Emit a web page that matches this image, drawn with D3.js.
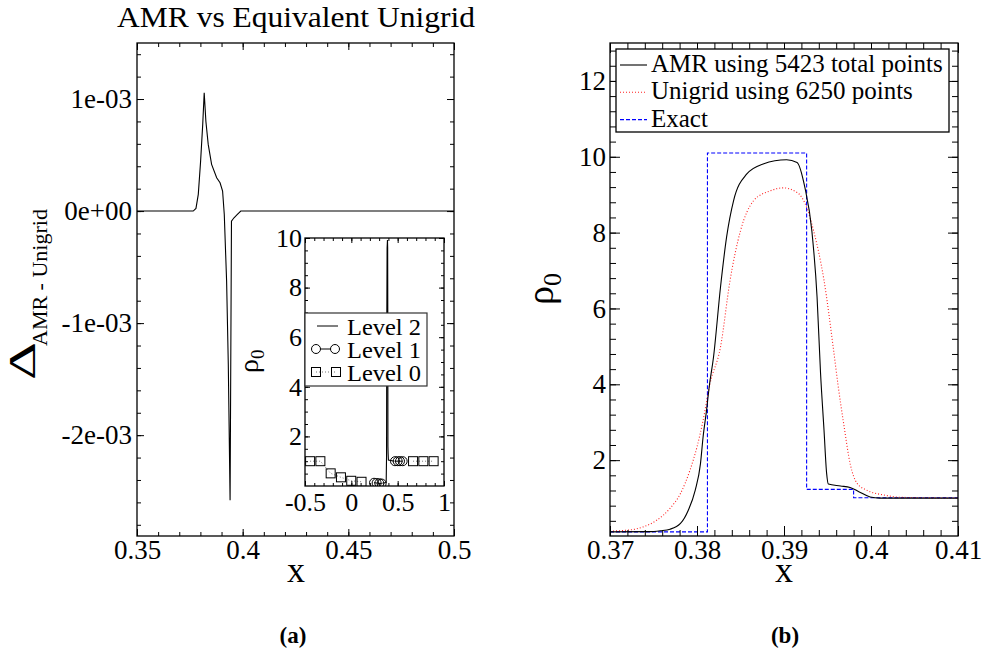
<!DOCTYPE html>
<html>
<head>
<meta charset="utf-8">
<script src="https://cdn.jsdelivr.net/npm/d3@7"></script>
<style>
body { margin: 0; background: #fff; }
svg text { font-family: "Liberation Serif", "Times New Roman", serif; fill: #000; }
</style>
</head>
<body>
<div id="chart"></div>
<script>
// ---- panel (a): AMR - unigrid difference
var diffX = [0.350, 0.3766, 0.3779, 0.3790, 0.3801, 0.3811, 0.3818, 0.3826, 0.3837, 0.3853, 0.3877, 0.3893, 0.3905, 0.3913, 0.3924, 0.3932, 0.39405, 0.39470, 0.3959, 0.3975, 0.3991, 0.500];
var diffY = [0, 0, 0.024e-3, 0.149e-3, 0.446e-3, 0.774e-3, 1.056e-3, 0.80e-3, 0.595e-3, 0.417e-3, 0.297e-3, 0.253e-3, 0.179e-3, -0.03e-3, -0.625e-3, -1.37e-3, -2.58e-3, -0.09e-3, -0.06e-3, -0.03e-3, 0, 0];
var aXTicks = [0.35, 0.4, 0.45, 0.5];
var aXLabels = ["0.35", "0.4", "0.45", "0.5"];
var aYTicks = [-2e-3, -1e-3, 0, 1e-3];
var aYLabels = ["-2e-03", "-1e-03", "0e+00", "1e-03"];

// ---- inset: refinement levels
var lev2X = [0.335, 0.376, 0.3800, 0.3825, 0.386, 0.390, 0.392, 0.3938, 0.3949, 0.397, 0.400, 0.465];
var lev2Rho = [0.11, 0.14, 1.2, 6.5, 9.6, 9.92, 9.6, 6.3, 1.6, 1.3, 1.05, 1.0];
var lev1X = [0.245, 0.273, 0.302, 0.327, null, 0.471, 0.500, 0.525, 0.554];
var lev1Rho = [0.13, 0.12, 0.11, 0.10, null, 1.0, 1.0, 1.0, 1.0];
var lev0X = [-0.445, -0.334, -0.223, -0.112, -0.001, 0.110, null, 0.666, 0.777, 0.888];
var lev0Rho = [1.0, 1.0, 0.51, 0.35, 0.21, 0.17, null, 1.0, 1.0, 1.0];
var inXTicks = [-0.5, 0, 0.5, 1];
var inXLabels = ["-0.5", "0", "0.5", "1"];
var inYTicks = [2, 4, 6, 8, 10];
var levelNames = ["Level 2", "Level 1", "Level 0"];

// ---- panel (b): density profiles
var amrX = [0.370, 0.3745, 0.3758, 0.3769, 0.3781, 0.3790, 0.3798, 0.3804, 0.3807, 0.3811, 0.3814, 0.3819, 0.3827, 0.3834, 0.3842, 0.3857, 0.3876, 0.3903, 0.3915, 0.3924, 0.3932, 0.3938, 0.3942, 0.3946, 0.3949, 0.3951, 0.3965, 0.3976, 0.3986, 0.3999, 0.4010, 0.410];
var amrRho = [0.11, 0.115, 0.14, 0.18, 0.33, 0.68, 1.21, 1.91, 2.61, 3.32, 3.93, 4.72, 6.56, 7.88, 8.84, 9.54, 9.81, 9.92, 9.85, 9.19, 8.05, 6.3, 4.3, 2.79, 1.65, 1.37, 1.32, 1.28, 1.17, 1.03, 1.0, 1.0];
var uniX = [0.370, 0.3723, 0.3738, 0.3754, 0.3769, 0.3781, 0.3792, 0.3800, 0.3807, 0.3815, 0.3827, 0.3838, 0.3850, 0.3865, 0.3884, 0.3899, 0.3915, 0.3926, 0.3934, 0.3946, 0.3957, 0.3962, 0.3969, 0.3976, 0.3984, 0.3995, 0.4015, 0.4034, 0.410];
var uniRho = [0.13, 0.16, 0.24, 0.42, 0.73, 1.12, 1.74, 2.35, 3.05, 4.02, 4.98, 6.74, 8.05, 8.84, 9.1, 9.18, 9.06, 8.67, 8.05, 6.74, 4.9, 4.0, 2.9, 1.91, 1.39, 1.21, 1.08, 1.02, 1.0];
var exactX = [0.370, 0.3812, 0.3926, 0.3980, 0.410];
var exactRho = [0.11, 10.1, 1.23, 1.01, 1.01];
var bXTicks = [0.37, 0.38, 0.39, 0.4, 0.41];
var bXLabels = ["0.37", "0.38", "0.39", "0.4", "0.41"];
var bYTicks = [2, 4, 6, 8, 10, 12];
var seriesNames = ["AMR using 5423 total points", "Unigrid using 6250 points", "Exact"];

var W = 985, H = 654;
var svg = d3.select("#chart").append("svg")
    .attr("width", W).attr("height", H);
svg.append("rect").attr("width", W).attr("height", H).attr("fill", "#fff");

// draws box + inward ticks on all four sides, labels on bottom/left
function frame(g, x, y, o) {
    var yb = y.range()[0], yt = y.range()[1];
    var xl = x.range()[0], xr = x.range()[1];
    var sides = [
        [d3.axisBottom, x, "translate(0," + yb + ")"],
        [d3.axisTop, x, "translate(0," + yt + ")"],
        [d3.axisLeft, y, "translate(" + xl + ",0)"],
        [d3.axisRight, y, "translate(" + xr + ",0)"]
    ];
    sides.forEach(function (s, i) {
        var isX = i < 2;
        // minor ticks, no labels
        g.append("g").attr("transform", s[2])
            .call(s[0](s[1]).tickValues(isX ? o.xMinor : o.yMinor).tickSizeInner(-o.minor).tickSizeOuter(0))
            .call(a => a.select(".domain").remove())
            .call(a => a.selectAll("text").remove());
        // major
        var ax = s[0](s[1]).tickValues(isX ? o.xTicks : o.yTicks).tickSizeInner(-o.major).tickSizeOuter(0);
        if (i === 0) ax.tickFormat((d, j) => o.xLabels[j]).tickPadding(o.xPad);
        else if (i === 2) ax.tickFormat((d, j) => o.yLabels[j]).tickPadding(o.yPad);
        var ag = g.append("g").attr("transform", s[2]).call(ax)
            .call(a => a.select(".domain").remove());
        if (i === 1 || i === 3) ag.selectAll("text").remove();
        ag.attr("font-family", null).attr("font-size", o.font);
    });
    g.selectAll(".tick line").attr("stroke-width", 1);
    g.append("rect")
        .attr("x", xl).attr("y", yt)
        .attr("width", xr - xl).attr("height", yb - yt)
        .attr("fill", "none").attr("stroke", "#000").attr("stroke-width", 1.3);
}

function zip(xs, ys) {
    return xs.map((d, i) => [d, ys[i]]);
}

// ================= panel (a)
var xA = d3.scaleLinear().domain([0.35, 0.5]).range([137, 454]);
var yA = d3.scaleLinear().domain([-2.9e-3, 1.5e-3]).range([536, 43]);
var gA = svg.append("g");

gA.append("path")
    .datum(zip(diffX, diffY))
    .attr("fill", "none").attr("stroke", "#000").attr("stroke-width", 1.1)
    .attr("d", d3.line().x(d => xA(d[0])).y(d => yA(d[1])));

frame(gA, xA, yA, {
    xTicks: aXTicks, xLabels: aXLabels, yTicks: aYTicks, yLabels: aYLabels,
    xMinor: d3.range(0.36, 0.5, 0.01), yMinor: d3.range(-2.8e-3, 1.45e-3, 0.2e-3),
    major: 7, minor: 4, font: 27, xPad: 4, yPad: 5
});

gA.append("text").attr("x", 296).attr("y", 27).attr("text-anchor", "middle")
    .attr("font-size", 29).attr("textLength", 358).attr("lengthAdjust", "spacingAndGlyphs")
    .text("AMR vs Equivalent Unigrid");
gA.append("text").attr("x", 296).attr("y", 582).attr("text-anchor", "middle")
    .attr("font-size", 36).text("x");
gA.append("text").attr("transform", "translate(35,380) rotate(-90)")
    .attr("font-size", 37).attr("textLength", 38).attr("lengthAdjust", "spacingAndGlyphs")
    .text("Δ");
gA.append("text").attr("transform", "translate(47,346) rotate(-90)")
    .attr("font-size", 22).text("AMR - Unigrid");

// ---- inset
var xI = d3.scaleLinear().domain([-0.5, 1]).range([305, 444]);
var yI = d3.scaleLinear().domain([0, 10]).range([486, 238]);
var gI = svg.append("g");
gI.append("rect").attr("x", 305).attr("y", 238).attr("width", 139).attr("height", 248).attr("fill", "#fff");

gI.append("clipPath").attr("id", "inclip").append("rect")
    .attr("x", 305).attr("y", 238).attr("width", 139).attr("height", 248);
var lineI = d3.line().defined(d => d[0] !== null).x(d => xI(d[0])).y(d => yI(d[1]));

var lev0 = zip(lev0X, lev0Rho);
var lev1 = zip(lev1X, lev1Rho);
var gIc = gI.append("g").attr("clip-path", "url(#inclip)");
gIc.append("path").datum(lev0).attr("fill", "none").attr("stroke", "#777")
    .attr("stroke-dasharray", "1,2").attr("d", lineI);
gIc.selectAll("rect.l0").data(lev0.filter(d => d[0] !== null)).enter().append("rect")
    .attr("class", "l0")
    .attr("x", d => xI(d[0]) - 4.5).attr("y", d => yI(d[1]) - 4.5)
    .attr("width", 9).attr("height", 9)
    .attr("fill", "none").attr("stroke", "#000").attr("stroke-width", 1);
gIc.append("path").datum(lev1).attr("fill", "none").attr("stroke", "#000").attr("d", lineI);
gIc.selectAll("circle.l1").data(lev1.filter(d => d[0] !== null)).enter().append("circle")
    .attr("class", "l1")
    .attr("cx", d => xI(d[0])).attr("cy", d => yI(d[1])).attr("r", 4.5)
    .attr("fill", "none").attr("stroke", "#000").attr("stroke-width", 1);
gIc.append("path").datum(zip(lev2X, lev2Rho)).attr("fill", "none").attr("stroke", "#000")
    .attr("stroke-width", 1.1).attr("d", lineI);

frame(gI, xI, yI, {
    xTicks: inXTicks, xLabels: inXLabels, yTicks: inYTicks, yLabels: inYTicks.map(String),
    xMinor: d3.range(-0.4, 1, 0.1), yMinor: d3.range(0.5, 10, 0.5),
    major: 5, minor: 3, font: 26, xPad: 7, yPad: 3
});

var tI = gI.append("text").attr("transform", "translate(258,373) rotate(-90)");
tI.append("tspan").attr("font-size", 28).text("ρ");
tI.append("tspan").attr("font-size", 19).attr("dy", 6).text("0");

// inset legend
var lgI = gI.append("g");
lgI.append("rect").attr("x", 305).attr("y", 313).attr("width", 122).attr("height", 73)
    .attr("fill", "#fff").attr("stroke", "#333").attr("stroke-width", 1.2);
lgI.append("line").attr("x1", 317).attr("x2", 338).attr("y1", 326).attr("y2", 326).attr("stroke", "#000");
lgI.append("line").attr("x1", 316).attr("x2", 335).attr("y1", 349).attr("y2", 349).attr("stroke", "#000");
[316, 335].forEach(cx => lgI.append("circle").attr("cx", cx).attr("cy", 349).attr("r", 4.5)
    .attr("fill", "#fff").attr("stroke", "#000"));
lgI.append("line").attr("x1", 316).attr("x2", 336).attr("y1", 372).attr("y2", 372)
    .attr("stroke", "#777").attr("stroke-dasharray", "1,2");
[316, 336].forEach(cx => lgI.append("rect").attr("x", cx - 4.5).attr("y", 367.5)
    .attr("width", 9).attr("height", 9).attr("fill", "none").attr("stroke", "#000"));
lgI.selectAll("text.lg").data(levelNames).enter().append("text")
    .attr("class", "lg").attr("x", 347).attr("y", (d, i) => 335 + i * 23)
    .attr("font-size", 24).attr("textLength", 74).attr("lengthAdjust", "spacingAndGlyphs")
    .text(d => d);

// ================= panel (b)
var xB = d3.scaleLinear().domain([0.37, 0.41]).range([610, 958]);
var yB = d3.scaleLinear().domain([0, 13]).range([536, 43]);
var gB = svg.append("g");

gB.append("path").datum(zip(exactX, exactRho))
    .attr("fill", "none").attr("stroke", "#0000ff").attr("stroke-width", 1.1)
    .attr("stroke-dasharray", "4,2")
    .attr("d", d3.line().x(d => xB(d[0])).y(d => yB(d[1])).curve(d3.curveStepAfter));
gB.append("path").datum(zip(uniX, uniRho))
    .attr("fill", "none").attr("stroke", "#ff2020").attr("stroke-width", 1.1)
    .attr("stroke-dasharray", "1,2")
    .attr("d", d3.line().x(d => xB(d[0])).y(d => yB(d[1])).curve(d3.curveMonotoneX));
gB.append("path").datum(zip(amrX, amrRho))
    .attr("fill", "none").attr("stroke", "#000").attr("stroke-width", 1.1)
    .attr("d", d3.line().x(d => xB(d[0])).y(d => yB(d[1])).curve(d3.curveMonotoneX));

frame(gB, xB, yB, {
    xTicks: bXTicks, xLabels: bXLabels, yTicks: bYTicks, yLabels: bYTicks.map(String),
    xMinor: d3.range(0.372, 0.41, 0.002), yMinor: d3.range(0.4, 13, 0.4),
    major: 10, minor: 6, font: 27, xPad: 4, yPad: 4
});

gB.append("text").attr("x", 784).attr("y", 582).attr("text-anchor", "middle")
    .attr("font-size", 36).text("x");
var tB = gB.append("text").attr("transform", "translate(553,305) rotate(-90)");
tB.append("tspan").attr("font-size", 38).text("ρ");
tB.append("tspan").attr("font-size", 26).attr("dy", 8).text("0");

// legend (b)
var lgB = gB.append("g");
lgB.append("rect").attr("x", 616).attr("y", 49).attr("width", 333).attr("height", 83)
    .attr("fill", "#fff").attr("stroke", "#000").attr("stroke-width", 1.3);
var lgStyle = [["#000", null], ["#ff2020", "1,2"], ["#0000ff", "4,2"]];
seriesNames.forEach(function (name, i) {
    var yy = 65 + i * 27.3;
    lgB.append("line").attr("x1", 620).attr("x2", 647).attr("y1", yy).attr("y2", yy)
        .attr("stroke", lgStyle[i][0]).attr("stroke-width", 1.1)
        .attr("stroke-dasharray", lgStyle[i][1]);
    lgB.append("text").attr("x", 651).attr("y", yy + 7).attr("font-size", 25).text(name);
});

// sub-figure captions
svg.append("text").attr("x", 293).attr("y", 643).attr("text-anchor", "middle")
    .attr("font-size", 23).attr("font-weight", "bold").text("(a)");
svg.append("text").attr("x", 785).attr("y", 643).attr("text-anchor", "middle")
    .attr("font-size", 23).attr("font-weight", "bold").text("(b)");
</script>
</body>
</html>
